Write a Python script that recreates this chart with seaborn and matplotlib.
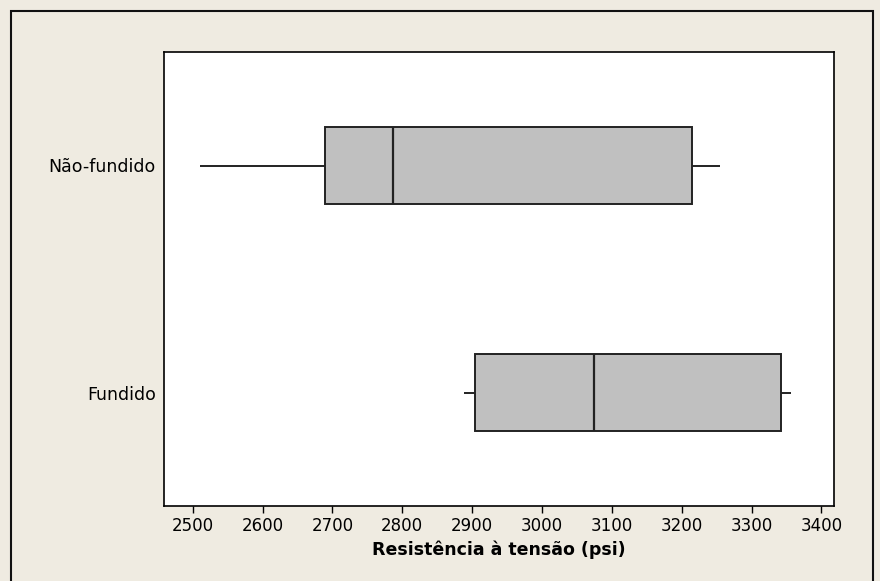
import pandas as pd
import seaborn as sns
import matplotlib.pyplot as plt
from matplotlib.patches import Rectangle

# resumo de cinco numeros (min, Q1, mediana, Q3, max)
grupos = ['Não-fundido', 'Fundido']
nao_fundido = [2511, 2689, 2787, 3215, 3255]
fundido = [2888, 2904, 3075, 3342, 3357]

df = pd.DataFrame({
    'grupo': [grupos[0]] * len(nao_fundido) + [grupos[1]] * len(fundido),
    'resistencia': nao_fundido + fundido,
})

sns.set_style('white')
plt.rcParams['font.family'] = ['DejaVu Sans']
plt.rcParams['text.color'] = 'black'
plt.rcParams['axes.labelcolor'] = 'black'

fundo = '#EFEBE1'
fig = plt.figure(figsize=(8.8, 5.81), dpi=100, facecolor=fundo)
ax = fig.add_axes([164 / 880, 1 - 506 / 581, 670 / 880, 454 / 581])
ax.set_facecolor('white')

sns.boxplot(data=df, x='resistencia', y='grupo', order=grupos, orient='h',
            whis=(0, 100), width=0.34, showcaps=False, color='#C0C0C0',
            linecolor='#222222', linewidth=1.4, saturation=1, ax=ax,
            medianprops={'color': '#222222', 'linewidth': 1.6})

ax.set_xlim(2459, 3418)
ax.set_ylim(1.5, -0.5)
ax.set_xticks(range(2500, 3401, 100))
ax.set_xlabel('Resistência à tensão (psi)', fontsize=12.5, fontweight='bold',
              labelpad=4, color='black')
ax.set_ylabel('')
ax.tick_params(axis='x', direction='out', length=5, width=1, colors='black',
               labelsize=12, pad=3, bottom=True)
ax.tick_params(axis='y', length=0, labelsize=12.5, pad=6, colors='black')
for s in ax.spines.values():
    s.set_visible(True)
    s.set_color('black')
    s.set_linewidth(1.2)

# moldura externa
fig.patches.append(Rectangle((11 / 880, -0.05), 862 / 880, 1.05 - 11 / 581,
                             transform=fig.transFigure, fill=False,
                             edgecolor='#111111', linewidth=1.5))

fig.savefig('out.png', dpi=100, facecolor=fundo)
